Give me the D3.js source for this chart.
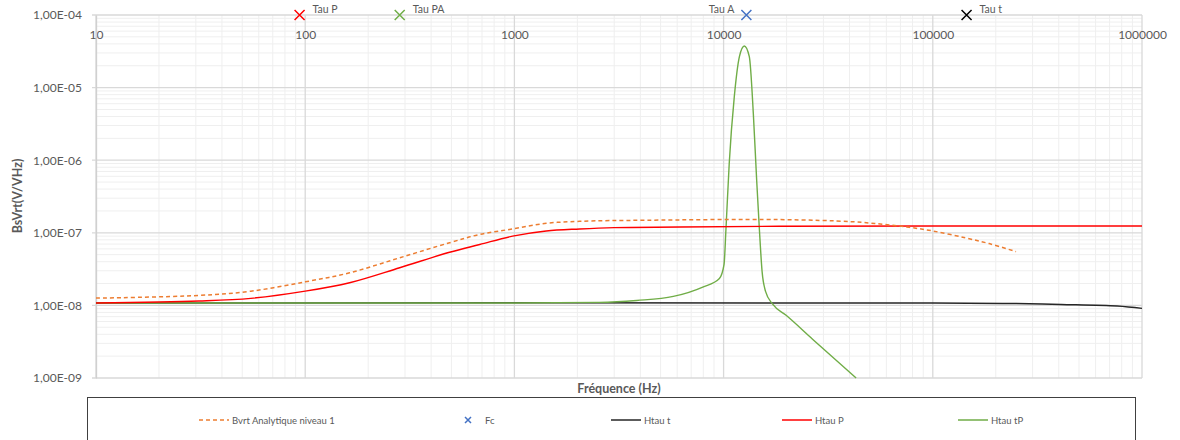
<!DOCTYPE html>
<html><head><meta charset="utf-8">
<script src="https://cdn.jsdelivr.net/npm/d3@7"></script>
<style>body{margin:0;background:#fff}svg{display:block}text{font-family:Lato,"Open Sans",sans-serif;fill:#595959}</style>
</head><body><svg id="c" width="1180" height="440"></svg>
<script>
// ---- data ----
const xTickLabels = ["10","100","1000","10000","100000","1000000"];
const yTickLabels = ["1,00E-04","1,00E-05","1,00E-06","1,00E-07","1,00E-08","1,00E-09"];

const freqBvrt = [10, 31, 55, 100, 163, 283, 490, 683, 980, 1420, 2050, 4270, 18400, 41400, 57600, 77100, 100000, 143600, 186000, 250000];
const bvrt     = [1.26e-8, 1.37e-8, 1.57e-8, 2.11e-8, 2.81e-8, 4.53e-8, 7.3e-8, 9.5e-8, 1.13e-7, 1.35e-7, 1.44e-7, 1.49e-7, 1.52e-7, 1.42e-7, 1.31e-7, 1.19e-7, 1.06e-7, 8.5e-8, 7.1e-8, 5.5e-8];

const freqP = [10, 31, 55, 100, 163, 283, 490, 683, 980, 1420, 2050, 3000, 6200, 18400, 100000, 1000000];
const htauP = [1.08e-8, 1.15e-8, 1.25e-8, 1.57e-8, 2.05e-8, 3.3e-8, 5.4e-8, 6.9e-8, 9.0e-8, 1.06e-7, 1.13e-7, 1.18e-7, 1.2e-7, 1.23e-7, 1.24e-7, 1.24e-7];

const freqT = [10, 100000, 250000, 410000, 760000, 1000000];
const htauT = [1.08e-8, 1.08e-8, 1.06e-8, 1.03e-8, 9.8e-9, 9.1e-9];

const freqTP = [10, 1000, 2550, 3840, 5750, 7950, 9550, 10050, 10260, 10640, 11250, 11900, 12560, 13270, 13870, 14390, 14830, 15270, 15850, 17200, 19900, 26700, 43000];
const htauTP = [1.08e-8, 1.08e-8, 1.1e-8, 1.17e-8, 1.33e-8, 1.79e-8, 2.35e-8, 3.67e-8, 1.1e-7, 9.1e-7, 7.5e-6, 2.67e-5, 3.74e-5, 2.67e-5, 4.4e-6, 5.3e-7, 1.1e-7, 2.97e-8, 1.57e-8, 1.03e-8, 7.3e-9, 3.4e-9, 1.0e-9];

const markerNames = ["Tau P", "Tau PA", "Tau A", "Tau t"];
const markerFreq  = [94, 283, 12850, 145000];
const markerVal   = [1e-4, 1e-4, 1e-4, 1e-4];
const markerColors = ["#ff0000", "#70ad47", "#4472c4", "#000000"];

const legendNames = ["Bvrt Analytique niveau 1", "Fc", "Htau t", "Htau P", "Htau tP"];

// ---- layout ----
const svg = d3.select("#c");
const L = 96, R = 1142, T = 15, B = 378;
const x = d3.scaleLog().domain([10, 1e6]).range([L, R]);
const y = d3.scaleLog().domain([1e-9, 1e-4]).range([B, T]);

// minor grid
const minorX = [], minorY = [];
for (let d = 1; d <= 5; d++) for (let k = 2; k <= 9; k++) minorX.push(k * Math.pow(10, d));
for (let d = -9; d <= -5; d++) for (let k = 2; k <= 9; k++) minorY.push(k * Math.pow(10, d));
const g = svg.append("g");
g.selectAll(".mx").data(minorX).join("line").attr("x1", d => x(d)).attr("x2", d => x(d))
  .attr("y1", T).attr("y2", B).attr("stroke", "#efefef").attr("stroke-width", 1);
g.selectAll(".my").data(minorY).join("line").attr("y1", d => y(d)).attr("y2", d => y(d))
  .attr("x1", L).attr("x2", R).attr("stroke", "#efefef").attr("stroke-width", 1);
// major grid
const majorX = xTickLabels.map(Number);
const majorY = [1e-4, 1e-5, 1e-6, 1e-7, 1e-8, 1e-9];
g.selectAll(".Mx").data(majorX).join("line").attr("x1", d => x(d)).attr("x2", d => x(d))
  .attr("y1", T).attr("y2", B).attr("stroke", "#d9d9d9").attr("stroke-width", 1.3);
g.selectAll(".My").data(majorY).join("line").attr("y1", d => y(d)).attr("y2", d => y(d))
  .attr("x1", L - 4).attr("x2", R).attr("stroke", "#d9d9d9").attr("stroke-width", 1.3);

// axes labels
const xAxis = d3.axisTop(x).tickValues(majorX).tickFormat((d, i) => xTickLabels[i]).tickSize(0).tickPadding(0);
const xa = svg.append("g").attr("transform", `translate(0,${T + 24})`).call(xAxis);
xa.select(".domain").remove();
xa.selectAll("text").attr("font-size", 12).attr("fill", "#595959").style("font-family", "Lato");

const yAxis = d3.axisLeft(y).tickValues(majorY).tickFormat((d, i) => yTickLabels[i]).tickSize(0).tickPadding(14);
const ya = svg.append("g").attr("transform", `translate(${L},0)`).call(yAxis);
ya.select(".domain").attr("stroke", "#d0d0d0").attr("stroke-width", 1.3);
ya.selectAll("text").attr("font-size", 12).attr("fill", "#595959").style("font-family", "Lato");

// titles
svg.append("text").attr("x", 619).attr("y", 393).attr("text-anchor", "middle")
  .attr("font-size", 12.5).attr("font-weight", "bold").text("Fréquence (Hz)");
svg.append("text").attr("transform", "translate(22,196) rotate(-90)").attr("text-anchor", "middle")
  .attr("font-size", 12.5).attr("font-weight", "bold").text("BsVrt(V/VHz)");

// lines
const smooth = d3.line().x(d => x(d[0])).y(d => y(d[1])).curve(d3.curveCatmullRom.alpha(0.5));
const line = d3.line().x(d => x(d[0])).y(d => y(d[1])).curve(d3.curveMonotoneX);
const zip = (a, b) => a.map((v, i) => [v, b[i]]);
const plot = svg.append("g");
plot.append("path").attr("d", smooth(zip(freqT, htauT))).attr("fill", "none").attr("stroke", "#262626").attr("stroke-width", 1.5);
plot.append("path").attr("d", line(zip(freqTP, htauTP))).attr("fill", "none").attr("stroke", "#70ad47").attr("stroke-width", 1.4);
plot.append("path").attr("d", smooth(zip(freqP, htauP))).attr("fill", "none").attr("stroke", "#ff0000").attr("stroke-width", 1.4);
plot.append("path").attr("d", smooth(zip(freqBvrt, bvrt))).attr("fill", "none").attr("stroke", "#ed7d31").attr("stroke-width", 1.5).attr("stroke-dasharray", "4,3");

// top markers
const cross = (sel, cx, cy, s, col) => {
  sel.append("path").attr("d", `M${cx - s},${cy - s}L${cx + s},${cy + s}M${cx - s},${cy + s}L${cx + s},${cy - s}`)
    .attr("stroke", col).attr("stroke-width", 1.5).attr("fill", "none");
};
const mg = svg.append("g");
markerNames.forEach((n, i) => {
  const cx = x(markerFreq[i]), cy = y(markerVal[i]);
  cross(mg, cx, cy, 5, markerColors[i]);
  const left = n === "Tau A";
  mg.append("text").attr("x", left ? cx - 12 : cx + 13).attr("y", cy - 2)
    .attr("text-anchor", left ? "end" : "start").attr("font-size", 10.5).text(n);
});

// legend
svg.append("rect").attr("x", 87.5).attr("y", 397.5).attr("width", 1048).attr("height", 60)
  .attr("fill", "#fff").attr("stroke", "#404040").attr("stroke-width", 1);
const lg = svg.append("g");
const ly = 420;
const items = [
  {x: 199, type: "dash", col: "#ed7d31"},
  {x: 468, type: "x", col: "#4472c4"},
  {x: 611, type: "line", col: "#262626"},
  {x: 782, type: "line", col: "#ff0000"},
  {x: 958, type: "line", col: "#70ad47"}
];
items.forEach((it, i) => {
  let tx;
  if (it.type === "x") {
    cross(lg, it.x, ly, 3, it.col);
    tx = it.x + 17;
  } else {
    lg.append("line").attr("x1", it.x).attr("x2", it.x + 30).attr("y1", ly).attr("y2", ly)
      .attr("stroke", it.col).attr("stroke-width", 1.5).attr("stroke-dasharray", it.type === "dash" ? "4,3" : null);
    tx = it.x + 33;
  }
  lg.append("text").attr("x", tx).attr("y", ly + 3.5).attr("font-size", 9.5).text(legendNames[i]);
});
</script></body></html>
